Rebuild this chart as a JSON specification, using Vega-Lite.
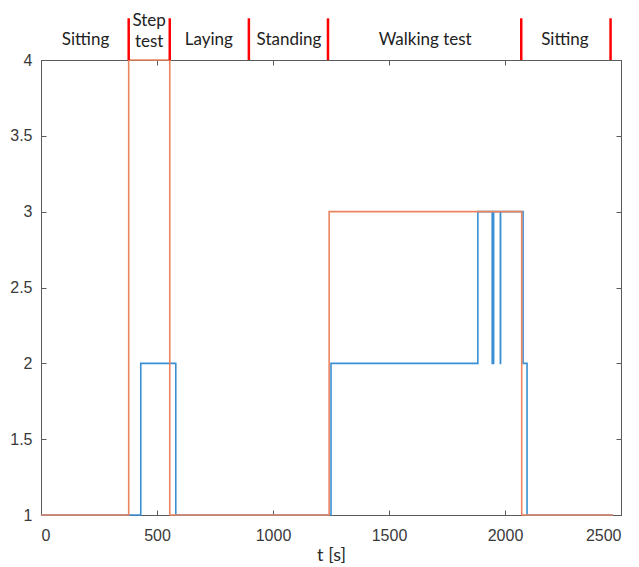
{
  "$schema": "https://vega.github.io/schema/vega-lite/v6.json",
  "width": 580,
  "height": 455,
  "autosize": "none",
  "padding": {"left": 41, "top": 60, "right": 18, "bottom": 52},
  "background": "white",
  "config": {
    "view": {"stroke": "#5a5a5a", "strokeWidth": 1},
    "axis": {
      "grid": false,
      "domainColor": "#5a5a5a",
      "tickColor": "#5a5a5a",
      "labelColor": "#3a3a3a",
      "labelFont": "Liberation Sans",
      "labelFontSize": 16,
      "titleFont": "Lato",
      "titleFontSize": 18,
      "titleFontWeight": "normal",
      "titleColor": "#2a2a2a",
      "tickSize": -5
    }
  },
  "datasets": {
    "blue": [
      {"t": 0, "v": 1}, {"t": 430, "v": 2}, {"t": 581, "v": 1}, {"t": 1250, "v": 2},
      {"t": 1883, "v": 3}, {"t": 1945, "v": 2}, {"t": 1946, "v": 3}, {"t": 1950, "v": 2},
      {"t": 1951, "v": 3}, {"t": 1980, "v": 2}, {"t": 1981, "v": 3}, {"t": 2078, "v": 2},
      {"t": 2095, "v": 1}, {"t": 2465, "v": 1}
    ],
    "orange": [
      {"t": 0, "v": 1}, {"t": 378, "v": 4}, {"t": 555, "v": 1}, {"t": 1242, "v": 3},
      {"t": 2072, "v": 1}, {"t": 2465, "v": 1}
    ],
    "bounds": [
      {"t": 378}, {"t": 555}, {"t": 896}, {"t": 1237}, {"t": 2070}, {"t": 2455}
    ],
    "labels": [
      {"mid": 192, "label": "Sitting"},
      {"mid": 723, "label": "Laying"},
      {"mid": 1069, "label": "Standing"},
      {"mid": 1656, "label": "Walking test"},
      {"mid": 2258, "label": "Sitting"}
    ],
    "labels2": [
      {"mid": 466, "label": "Step\ntest"}
    ]
  },
  "layer": [
    {
      "data": {"name": "blue"},
      "mark": {"type": "line", "interpolate": "step-after", "color": "#3a8fd3", "strokeWidth": 1.6},
      "encoding": {
        "x": {"field": "t", "type": "quantitative", "scale": {"domain": [0, 2500], "nice": false},
              "axis": {"orient": "bottom", "values": [0, 500, 1000, 1500, 2000, 2500], "format": "d", "title": "t [s]", "labelPadding": 17, "titlePadding": 3}},
        "y": {"field": "v", "type": "quantitative", "scale": {"domain": [1, 4], "nice": false, "zero": false},
              "axis": {"orient": "left", "values": [1, 1.5, 2, 2.5, 3, 3.5, 4], "format": "~g", "title": null, "labelPadding": 14}}
      }
    },
    {
      "data": {"name": "orange"},
      "mark": {"type": "line", "interpolate": "step-after", "color": "#ec8460", "strokeWidth": 1.6},
      "encoding": {
        "x": {"field": "t", "type": "quantitative",
              "axis": {"orient": "top", "values": [0, 500, 1000, 1500, 2000, 2500], "labels": false, "title": null}},
        "y": {"field": "v", "type": "quantitative",
              "axis": {"orient": "right", "values": [1, 1.5, 2, 2.5, 3, 3.5, 4], "labels": false, "title": null}}
      }
    },
    {
      "data": {"name": "bounds"},
      "mark": {"type": "rule", "color": "#ff0000", "strokeWidth": 2.5},
      "encoding": {
        "x": {"field": "t", "type": "quantitative", "axis": null},
        "y": {"datum": 4, "axis": null},
        "y2": {"datum": 4.275}
      }
    },
    {
      "data": {"name": "labels"},
      "mark": {"type": "text", "font": "Lato", "fontSize": 17, "color": "#222222", "baseline": "middle"},
      "encoding": {
        "x": {"field": "mid", "type": "quantitative", "axis": null},
        "y": {"datum": 4.13, "axis": null},
        "text": {"field": "label"}
      }
    },
    {
      "data": {"name": "labels2"},
      "mark": {"type": "text", "font": "Lato", "fontSize": 17, "color": "#222222", "baseline": "middle", "lineBreak": "\n", "lineHeight": 21},
      "encoding": {
        "x": {"field": "mid", "type": "quantitative", "axis": null},
        "y": {"datum": 4.26, "axis": null},
        "text": {"field": "label"}
      }
    }
  ],
  "resolve": {"axis": {"x": "independent", "y": "independent"}}
}
